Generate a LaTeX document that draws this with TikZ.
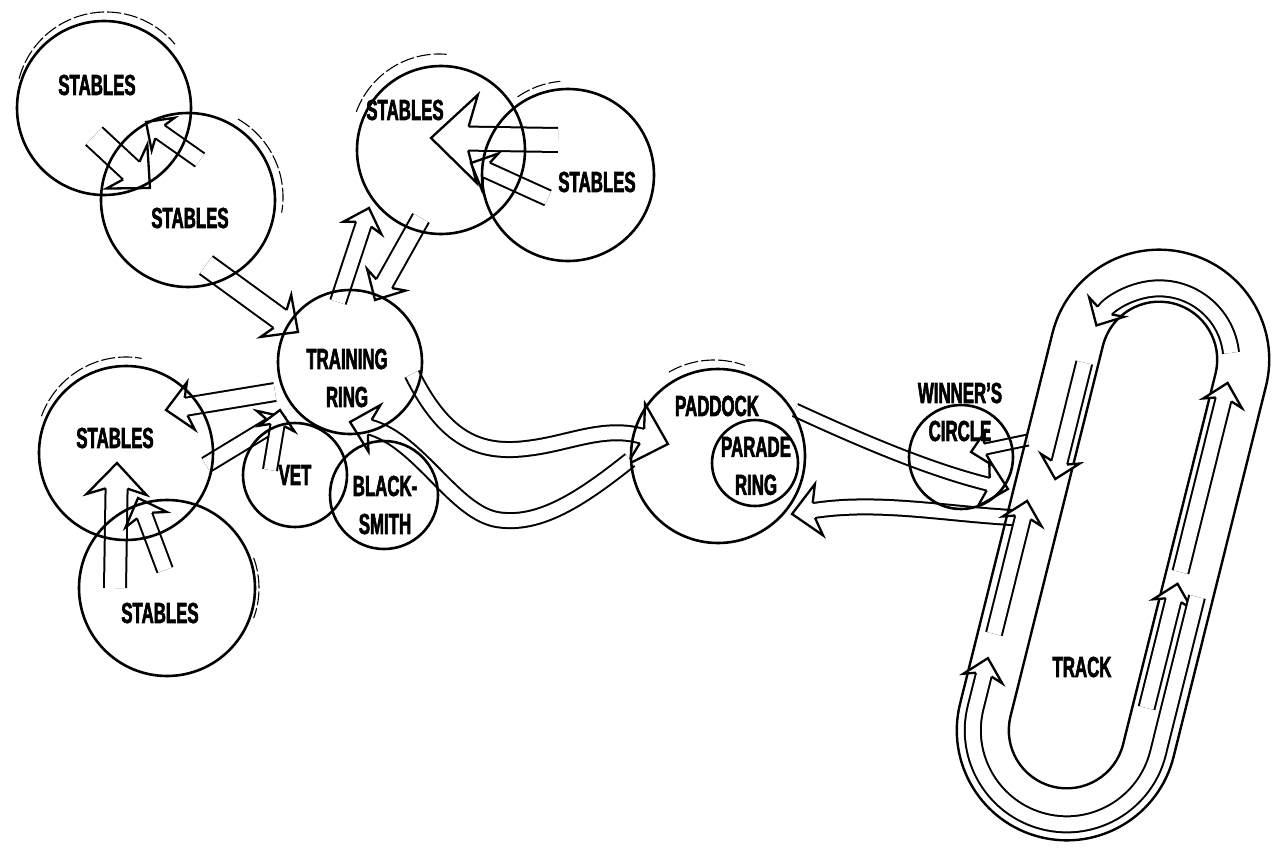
\documentclass[tikz,border=0pt]{standalone}
\usepackage{fontspec}
\setmainfont{Liberation Sans}[FakeStretch=0.58, BoldFeatures={FakeBold=2}]
\usetikzlibrary{decorations.markings,calc}
\pgfdeclarelayer{bg}
\pgfsetlayers{bg,main}
\tikzset{
  bub/.style={circle, draw, line width=2.6pt, inner sep=0pt, minimum size=#1},
  lab/.style={font=\bfseries\fontsize{29}{38}\selectfont, align=center, inner sep=0pt},
  echo/.style={line width=1.1pt, dash pattern=on 14pt off 3pt},
  trackline/.style={line width=2.4pt},
  barrow/.style 2 args={
    postaction={draw, line width=2pt, double=white, double distance=#1, shorten >={0.8*#2}},
    postaction={decorate, decoration={markings, mark=at position 0.9999 with {
      \fill[white] ({-0.85*#2},{0.5*#1+2pt}) -- ({-1.05*#2},{#2}) -- (0,0) -- ({-1.05*#2},{-#2}) -- ({-0.85*#2},{-0.5*#1-2pt}) -- cycle;
      \draw[line width=2.3pt, line join=miter] ({-0.85*#2},{0.5*#1+1pt}) -- ({-1.05*#2},{#2}) -- (0,0) -- ({-1.05*#2},{-#2}) -- ({-0.85*#2},{-0.5*#1-1pt});
    }}}},
}
\begin{document}
\begin{tikzpicture}[x=1pt, y=-1pt]
\useasboundingbox (0,0) rectangle (1282,848);

% bubbles
\node[bub=174pt] (s1) at (104,108) {};
\node[bub=174pt] (s2) at (188,200) {};
\node[bub=168pt] (s3) at (441,150) {};
\node[bub=172pt] (s4) at (568,175) {};
\node[bub=144pt] (ring) at (350,362) {};
\node[bub=174pt] (s5) at (126,453) {};
\node[bub=176pt] (s6) at (167,588) {};
\node[bub=104pt] (vet) at (295,475) {};
\node[bub=108pt] (bs) at (384,495) {};
\node[bub=174pt] (pad) at (718,456) {};
\node[bub=86pt] (par) at (755,463) {};
\node[bub=104pt] (win) at (961,457) {};

% sketchy echo strokes
\draw[echo] ($(s1)+(2,-6)$) ++(195:90) arc[start angle=195, end angle=320, radius=90];
\draw[echo] ($(s2)+(5,-3)$) ++(300:90) arc[start angle=300, end angle=370, radius=90];
\draw[echo] ($(s3)+(-2,-8)$) ++(200:88) arc[start angle=200, end angle=275, radius=88];
\draw[echo] ($(s4)+(0,-6)$) ++(235:88) arc[start angle=235, end angle=265, radius=88];
\draw[echo] ($(s5)+(0,-6)$) ++(200:90) arc[start angle=200, end angle=280, radius=90];
\draw[echo] ($(pad)+(-4,-6)$) ++(240:90) arc[start angle=240, end angle=290, radius=90];
\draw[echo] ($(s6)+(4,0)$) ++(-20:88) arc[start angle=-20, end angle=20, radius=88];

% labels
\node[lab] (t1) at (97,85) {STABLES};
\node[lab] (t2) at (190,218) {STABLES};
\node[lab] (t3) at (405,110) {STABLES};
\node[lab] (t4) at (597,182) {STABLES};
\node[lab] (t5) at (115,438) {STABLES};
\node[lab] (t6) at (160,613) {STABLES};
\node[lab] (tring) at (347,378) {TRAINING\\RING};
\node[lab] (tvet) at (295,475) {VET};
\node[lab] (tbs) at (385,505) {BLACK-\\SMITH};
\node[lab] (tpad) at (717,406) {PADDOCK};
\node[lab] (tpar) at (756,466) {PARADE\\RING};
\node[lab] (twin) at (960,412) {WINNER'S\\CIRCLE};
\node[lab] (ttrack) at (1082,667) {TRACK};

\coordinate (junc) at (1030,478);

\begin{pgfonlayer}{bg}
% stables interconnections
\path[barrow={22pt}{30pt}] ($(s1)+(-10,28)$) -- ($(s2)+(-38,-12)$);
\path[barrow={14pt}{20pt}] ($(s2)+(12,-40)$) -- ($(s1)+(42,14)$);
\path[barrow={20pt}{26pt}] ($(s2)+(18,65)$) -- ($(ring)+(-52,-30)$);
\path[barrow={16pt}{22pt}] ($(s3)+(-20,68)$) -- ($(ring)+(25,-62)$);
\path[barrow={14pt}{20pt}] ($(ring)+(-12,-60)$) -- ($(s3)+(-72,58)$);
\path[barrow={22pt}{44pt}] ($(s4)+(-10,-35)$) -- ($(s3)+(-10,-12)$);
\path[barrow={14pt}{20pt}] ($(s4)+(-20,23)$) -- ($(s3)+(30,13)$);
\path[barrow={16pt}{24pt}] ($(ring)+(-75,30)$) -- ($(s5)+(40,-43)$);
\path[barrow={14pt}{20pt}] ($(s5)+(80,12)$) -- ($(ring)+(-65,55)$);
\path[barrow={20pt}{30pt}] ($(s6)+(-52,0)$) -- ($(s5)+(-9,10)$);
\path[barrow={14pt}{22pt}] ($(s6)+(-2,-18)$) -- ($(s5)+(12,45)$);
\path[barrow={12pt}{18pt}] ($(vet)+(-25,-5)$) -- ($(ring)+(-70,48)$);
% ring <-> paddock
\path[barrow={13pt}{32pt}] ($(ring)+(62,12)$) .. controls (445,440) and (480,455) .. (530,448)
   .. controls (570,443) and (605,425) .. ($(pad)+(-50,-12)$);
\path[barrow={13pt}{24pt}] ($(pad)+(-88,4)$) .. controls (580,500) and (540,525) .. (500,520)
   .. controls (455,515) and (420,440) .. ($(ring)+(0,60)$);
% paddock <-> track
\path[barrow={11pt}{24pt}] ($(pad)+(77,-46)$) .. controls (860,440) and (930,470) .. ($(win)+(47,32)$);
\path[barrow={13pt}{26pt}] ($(junc)+(-8,40)$) .. controls (950,515) and (880,500) .. ($(pad)+(74,58)$);
\path[barrow={9pt}{17pt}] ($(junc)+(-2,-38)$) -- ($(win)+(10,-5)$);

% track
\begin{scope}[shift={(1113,545)}, rotate=76]
  \draw[trackline] (-191,-110) -- (191,-110) arc[start angle=-90,end angle=90,radius=110] -- (-191,110) arc[start angle=90,end angle=270,radius=110] -- cycle;
  \draw[trackline] (-191,-58) -- (191,-58) arc[start angle=-90,end angle=90,radius=58] -- (-191,58) arc[start angle=90,end angle=270,radius=58] -- cycle;
  \path[barrow={14pt}{20pt}] (-150,72) -- (-22,72);
  \path[barrow={14pt}{20pt}] (-10,72) -- (185,72);
  \path[barrow={14pt}{20pt}] (215,68) arc[start angle=70, end angle=-75, radius=72];
  \path[barrow={14pt}{20pt}] (170,-72) -- (50,-72);
  \path[barrow={14pt}{20pt}] (-30,94) -- (-191,94) arc[start angle=90, end angle=270, radius=94] -- (-140,-94);
  \path[barrow={14pt}{20pt}] (-115,-94) -- (22,-94);
\end{scope}
\end{pgfonlayer}
\end{tikzpicture}
\end{document}
